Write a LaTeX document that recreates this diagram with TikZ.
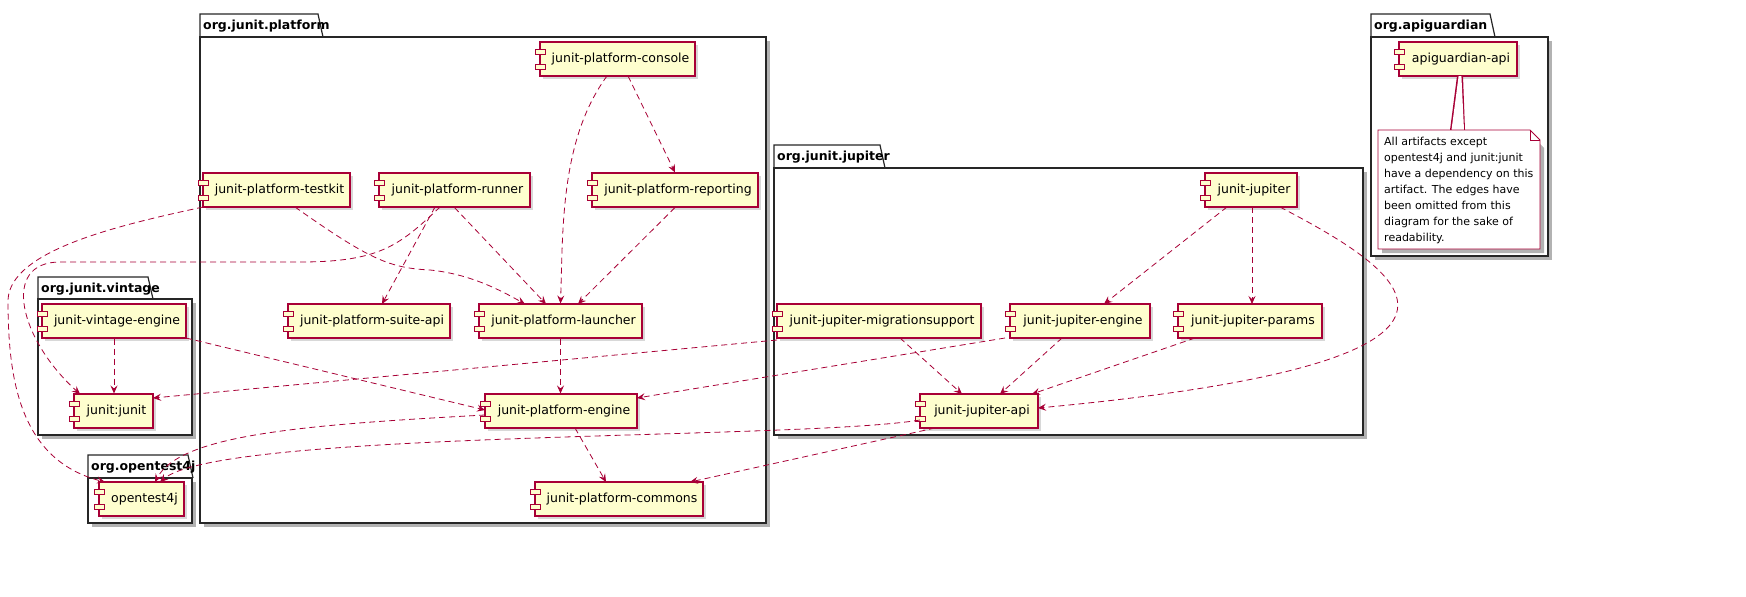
\documentclass[tikz,border=0pt]{standalone}
\usepackage{fontspec}
\setmainfont{DejaVu Sans}
\usetikzlibrary{shadows,arrows.meta}
\definecolor{pr}{HTML}{A80036}
\definecolor{pf}{HTML}{FEFECE}
\tikzset{
 every node/.style={font=\fontsize{12.5}{15}\selectfont,scale=.5},
 comp/.style={draw=pr,fill=pf,line width=1.1pt,inner sep=0pt,drop shadow={shadow xshift=1.6pt,shadow yshift=-1.6pt,opacity=.3}},
 icon/.style={draw=pr,fill=pf,line width=.5pt},
 pkg/.style={draw=black!85,line width=.6pt,fill=white},
 dep/.style={draw=pr,dashed,dash pattern=on 3pt off 2pt,line width=0.4pt,-{Stealth[length=4pt,width=3.5pt,inset=1.5pt]}},
}
\newcommand\comp[6]{%
 \pgfmathsetmacro\cw{#4-#2}\pgfmathsetmacro\ch{#5-#3}%
 \node[comp,minimum width=\cw pt,minimum height=\ch pt] (#1) at ({(#2+#4)/2},{(#3+#5)/2}) {\hspace*{6pt}#6};
 \draw[icon] (#2-5,#3+7) rectangle (#2+5,#3+12);
 \draw[icon] (#2-5,#5-12) rectangle (#2+5,#5-7);}
\newcommand\pkg[7]{% name x1 y1(tab top) tabx2 ybody x2 y2
 \fill[black,opacity=.3] (#2+4,#5+4) rectangle (#6+4,#7+4);
 \draw[pkg] (#2,#5) -- (#2,#3) -- (#4,#3) -- (#4+5,#5);
 \draw[pkg] (#2,#5) rectangle (#6,#7);
 \node[anchor=west,inner sep=0pt,font=\fontsize{12.5}{15}\selectfont\bfseries] at (#2+3,{(#3+#5)/2+1}) {#1};}
\begin{document}
\begin{tikzpicture}[x=.5pt,y=-.5pt]
\pkg{org.junit.platform}{200}{14}{318}{37}{766}{523}
\pkg{org.junit.jupiter}{774}{145}{880}{168}{1363}{435}
\pkg{org.apiguardian}{1371}{14}{1490}{37}{1548}{256}
\pkg{org.junit.vintage}{38}{277}{148}{299}{192}{435}
\pkg{org.opentest4j}{88}{455}{188}{478}{192}{523}

\comp{console}{540}{42}{695}{76}{junit-platform-console}
\comp{testkit}{203}{173}{350}{207}{junit-platform-testkit}
\comp{runner}{379}{173}{530}{207}{junit-platform-runner}
\comp{reporting}{592}{173}{758}{207}{junit-platform-reporting}
\comp{suite}{288}{304}{450}{338}{junit-platform-suite-api}
\comp{launcher}{479}{304}{642}{338}{junit-platform-launcher}
\comp{pengine}{485}{394}{637}{428}{junit-platform-engine}
\comp{commons}{535}{482}{703}{516}{junit-platform-commons}
\comp{vintage}{42}{304}{186}{338}{junit-vintage-engine}
\comp{junit}{74}{394}{153}{428}{junit:junit}
\comp{ot}{99}{482}{184}{516}{opentest4j}
\comp{jupiter}{1205}{173}{1297}{207}{junit-jupiter}
\comp{migr}{777}{304}{981}{338}{junit-jupiter-migrationsupport}
\comp{jengine}{1010}{304}{1150}{338}{junit-jupiter-engine}
\comp{params}{1178}{304}{1322}{338}{junit-jupiter-params}
\comp{api}{920}{394}{1038}{428}{junit-jupiter-api}
\comp{apig}{1399}{42}{1517}{76}{apiguardian-api}

% note
\fill[pr] (1457,76) -- (1463,76) -- (1465,130) -- (1450,130) -- cycle;
\fill[white] (1458.6,76) -- (1461.4,76) -- (1464,130) -- (1451.5,130) -- cycle;
\fill[black,opacity=.3] (1382,134) -- (1530,134) -- (1544,148) -- (1544,253) -- (1382,253) -- cycle;
\draw[draw=pr,line width=0.4pt,fill=white] (1378,130) -- (1530,130) -- (1540,140) -- (1540,249) -- (1378,249) -- cycle;
\draw[pr,line width=0.4pt] (1530,130) -- (1530,140) -- (1540,140);
\node[anchor=north west,align=left,inner sep=0pt,font=\fontsize{11}{16}\selectfont] (note) at (1384,137) {All artifacts except\\opentest4j and junit:junit\\have a dependency on this\\artifact. The edges have\\been omitted from this\\diagram for the sake of\\readability.};

% edges
\draw[dep] (607,76) .. controls (560,140) and (563,230) .. (launcher.north);
\draw[dep] (628,76) -- (reporting.north);
\draw[dep] (reporting.south) -- (578,304);
\draw[dep] (runner.south) -- (546,304);
\draw[dep] (435,207) -- (382,304);
\draw[dep] (295,207) .. controls (370,260) and (390,268) .. (430,270) .. controls (470,274) and (500,290) .. (525,304);
\draw[dep] (440,207) .. controls (400,245) and (380,262) .. (300,262) -- (60,262) .. controls (0,262) and (20,340) .. (80,394);
\draw[dep] (203,207) .. controls (120,225) and (10,250) .. (8,300) .. controls (8,380) and (20,460) .. (105,482);
\draw[dep] (launcher.south) -- (pengine.north -| launcher.south);
\draw[dep] (vintage.south) -- (junit.north -| vintage.south);
\draw[dep] (186,338) -- (485,410);
\draw[dep] (777,340) -- (153,398);
\draw[dep] (1005,338) -- (637,398);
\draw[dep] (900,338) -- (962,394);
\draw[dep] (1062,338) -- (1000,394);
\draw[dep] (1195,338) -- (1032,394);
\draw[dep] (1227,207) -- (1104,304);
\draw[dep] (1252,207) -- (1252,304);
\draw[dep] (1280,207) .. controls (1400,270) and (1550,360) .. (1038,408);
\draw[dep] (485,415) .. controls (300,425) and (180,435) .. (155,482);
\draw[dep] (575,428) -- (606,482);
\draw[dep] (920,420) .. controls (800,440) and (220,430) .. (160,482);
\draw[dep] (935,428) -- (690,482);
\pgfresetboundingbox
\useasboundingbox (0,0) rectangle (1746,596);
\end{tikzpicture}
\end{document}
